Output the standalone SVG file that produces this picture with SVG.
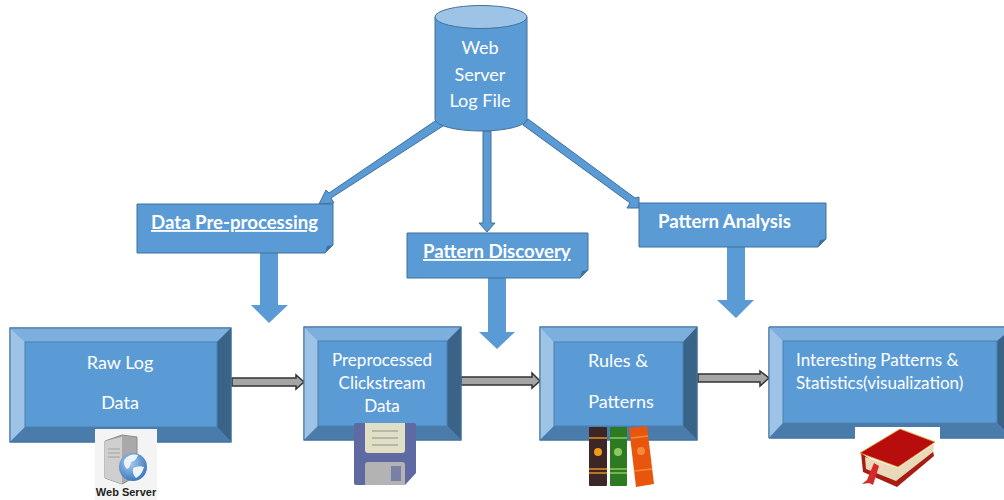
<svg xmlns="http://www.w3.org/2000/svg" width="1004" height="500" viewBox="0 0 1004 500">
<style>
.t{font-family:Lato,"Open Sans","Liberation Sans",sans-serif;fill:#fff;text-anchor:middle}
.s{font-size:18px}.m{font-size:17px}
.l{font-size:18.6px;font-weight:700}
.st{text-anchor:start}
.u{text-decoration:underline}
.main{fill:#5b9bd5;stroke:#41719c;stroke-width:1}
.top{fill:#7cafde}.left{fill:#9dc3e6}.right{fill:#3a6388}.bot{fill:#4a7cab}
.arr{fill:#5b9bd5}
.thin{fill:#5b9bd5;stroke:#41719c;stroke-width:1}
.gr{fill:#a5a5a5;stroke:#333;stroke-width:1.5}
</style>
<defs>
<filter id="b" x="-10%" y="-10%" width="120%" height="120%"><feGaussianBlur stdDeviation="0.5"/></filter>
<radialGradient id="globe" cx="0.4" cy="0.35" r="0.75"><stop offset="0" stop-color="#a8cdf0"/><stop offset="1" stop-color="#2f6db5"/></radialGradient>
</defs>
<g id="connectors">
<polygon class="thin" points="438,119 443,126 331,198 334,203 319,204 326,190 329,193"/>
<polygon class="thin" points="483,131 491,131 491,223 495,223 487,232 479,223 483,223"/>
<polygon class="thin" points="528,119 523,125 630,203 627,208 639,208 639,197 635,198"/>
<polygon class="arr" points="260,253 278,253 278,305 288,305 269,323 251,305 260,305"/>
<polygon class="arr" points="488,278 506,278 506,332 515,332 497,349 479,332 488,332"/>
<polygon class="arr" points="727,247 745,247 745,300 754,300 736,318 717,300 727,300"/>
<polygon class="gr" points="232,378 296,378 296,375 304,382 296,389 296,386 232,386"/>
<polygon class="gr" points="461,377 532,377 532,373 540,381 532,388 532,385 461,385"/>
<polygon class="gr" points="698,374 760,374 760,371 769,378 760,386 760,382 698,382"/>
</g>
<g id="log-file">
<path class="main" d="M435,17 V119 A46,12 0 0 0 527,119 V17 Z"/>
<ellipse cx="481" cy="17" rx="46" ry="11.5" fill="#9dc3e6" stroke="#41719c"/>
<text class="t s" x="480" y="54">Web</text>
<text class="t s" x="480" y="81">Server</text>
<text class="t s" x="480" y="107">Log File</text>
</g>
<g id="data-preprocessing">
<path class="main" d="M137,204 H333 V245 L325,253 H137 Z"/>
<polygon fill="#41719c" points="325,253 327,246 333,245"/>
<text class="t l st u" x="151" y="229">Data Pre-processing</text>
</g>
<g id="pattern-discovery">
<path class="main" d="M407,233 H588 V270 L580,278 H407 Z"/>
<polygon fill="#41719c" points="580,278 582,271 588,270"/>
<text class="t l st u" x="423" y="258">Pattern Discovery</text>
</g>
<g id="pattern-analysis">
<path class="main" d="M639,203 H826 V239 L818,247 H639 Z"/>
<polygon fill="#41719c" points="818,247 820,240 826,239"/>
<text class="t l st" x="658" y="228">Pattern Analysis</text>
</g>
<g id="raw-log">
<rect class="main" x="10" y="328" width="221" height="114"/>
<polygon class="top" points="10,328 231,328 217,342 25,342"/>
<polygon class="left" points="10,328 25,342 25,427 10,442"/>
<polygon class="right" points="231,328 231,442 217,427 217,342"/>
<polygon class="bot" points="10,442 25,427 217,427 231,442"/>
<rect x="10" y="328" width="221" height="114" fill="none" stroke="#41719c"/>
<rect x="25" y="342" width="192" height="85" fill="none" stroke="#4a80b0"/>
<text class="t s" x="120" y="369">Raw Log</text>
<text class="t s" x="120" y="409">Data</text>
</g>
<g id="web-server-icon">
<rect x="95" y="429" width="62" height="71" fill="#f4f4f4"/>
<g filter="url(#b)">
<polygon points="105,441 122,435 137,437 137,476 122,484 105,478" fill="#a9a9a9" stroke="#8a8a8a"/>
<polygon points="105,441 122,437 122,484 105,478" fill="#cfcfcf"/>
<path d="M108,449 H120 M108,453 H120 M108,457 H120" stroke="#a0a0a0"/>
<circle cx="133" cy="467" r="14" fill="url(#globe)"/>
<path d="M124,460 q6,-7 14,-5 q-2,6 -7,7 q-1,6 -4,7 q-4,-4 -3,-9Z M133,468 q6,-3 11,-1 q-2,8 -8,11 q-4,-4 -3,-10Z" fill="#eef3f7"/>
</g>
<text x="126" y="496" font-family="Liberation Sans,Arial,sans-serif" font-size="11" font-weight="700" fill="#222" text-anchor="middle">Web Server</text>
</g>
<g id="preprocessed">
<rect class="main" x="304" y="327" width="157" height="113"/>
<polygon class="top" points="304,327 461,327 447,341 318,341"/>
<polygon class="left" points="304,327 318,341 318,426 304,440"/>
<polygon class="right" points="461,327 461,440 447,426 447,341"/>
<polygon class="bot" points="304,440 318,426 447,426 461,440"/>
<rect x="304" y="327" width="157" height="113" fill="none" stroke="#41719c"/>
<rect x="318" y="341" width="129" height="85" fill="none" stroke="#4a80b0"/>
<text class="t m" x="382" y="366">Preprocessed</text>
<text class="t m" x="382" y="389">Clickstream</text>
<text class="t m" x="382" y="412">Data</text>
</g>
<g id="floppy-icon" filter="url(#b)">
<path d="M356,423 H414 Q416,423 416,425 V473 L405,485 H356 Q354,485 354,483 V425 Q354,423 356,423Z" fill="#5f6ba3"/>
<path d="M365,423 H405 V450 Q405,453 402,453 H368 Q365,453 365,450Z" fill="#dfdfc6"/>
<path d="M372,431 H398 M372,438 H398 M372,445 H398" stroke="#a9a9a0" stroke-width="1.5"/>
<path d="M368,462 H402 Q405,462 405,465 V485 H365 V465 Q365,462 368,462Z" fill="#b3b3b3"/>
<rect x="391" y="466" width="10" height="15" fill="#7a80a3"/>
</g>
<g id="rules">
<rect class="main" x="540" y="327" width="157" height="113"/>
<polygon class="top" points="540,327 697,327 683,342 554,342"/>
<polygon class="left" points="540,327 554,342 554,426 540,440"/>
<polygon class="right" points="697,327 697,440 683,426 683,342"/>
<polygon class="bot" points="540,440 554,426 683,426 697,440"/>
<rect x="540" y="327" width="157" height="113" fill="none" stroke="#41719c"/>
<rect x="554" y="342" width="129" height="84" fill="none" stroke="#4a80b0"/>
<text class="t s" x="618" y="367">Rules &amp;</text>
<text class="t s" x="621" y="408">Patterns</text>
</g>
<g id="books-icon" filter="url(#b)">
<rect x="589" y="427" width="18" height="59" rx="1" fill="#3d2527"/>
<path d="M589,438 H607 M589,469 H607 M589,473 H607" stroke="#e2902a" stroke-width="1.5"/>
<circle cx="598" cy="452" r="4" fill="#f09a1a"/>
<rect x="610" y="427" width="17" height="59" rx="1" fill="#2f7a22"/>
<path d="M610,438 H627 M610,469 H627 M610,473 H627" stroke="#8cc860" stroke-width="1.5"/>
<circle cx="618" cy="452" r="4" fill="#8cc860"/>
<polygon points="629,428 647,426 654,484 636,487" fill="#e8560e"/>
<path d="M631,438 L648,436 M634,471 L652,469" stroke="#f58a3c" stroke-width="1.5"/>
<circle cx="641" cy="451" r="4" fill="#f58a3c"/>
</g>
<g id="interesting">
<path class="main" d="M769,327 H1004 V438 H769 Z"/>
<polygon class="top" points="769,327 1004,327 1004,341 783,341"/>
<polygon class="left" points="769,327 783,341 783,423 769,438"/>
<polygon class="right" points="997,341 1004,335 1004,430 997,423"/>
<polygon class="bot" points="769,438 783,423 997,423 1004,430 1004,438"/>
<path d="M1004,327 H769 V438 H1004" fill="none" stroke="#41719c"/>
<rect x="783" y="341" width="214" height="82" fill="none" stroke="#4a80b0"/>
<text class="t m st" x="796" y="366">Interesting Patterns &amp;</text>
<text class="t m st" x="796" y="389">Statistics(visualization)</text>
</g>
<g id="book-icon">
<rect x="855" y="427" width="85" height="64" fill="#fff"/>
<g filter="url(#b)">
<polygon points="861,453 863,472 897,487 934,456 933,451 897,478" fill="#a81c14"/>
<polygon points="865,457 898,468 934,444 933,452 896,481 866,469" fill="#ead9b8"/>
<polygon points="860,453 900,429 935,442 898,467" fill="#b80f0a" stroke="#e09a30" stroke-width="0.8"/>
<path d="M874,463 L867,480 L862,484 L869,483 L873,485 L879,466Z" fill="#d42a2a"/>
</g>
</g>
</svg>
